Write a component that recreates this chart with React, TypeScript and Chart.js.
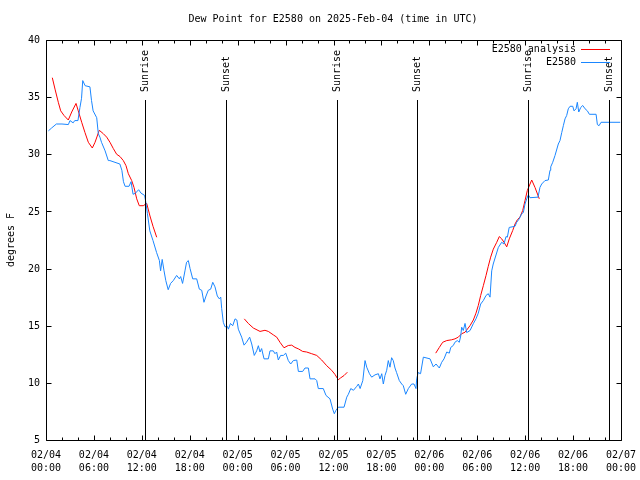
import React, { useEffect, useRef } from 'react';
import { Chart, registerables } from 'chart.js';

Chart.register(...registerables);

// Hours since 2025-02-04 00:00 UTC, dew point (°F)
const stationE2580: [number, number][] = [
  [0.3, 32.05], [0.7, 32.3], [1.3, 32.65], [2.0, 32.65], [2.8, 32.6], [3.0, 32.95], [3.4, 32.75], [3.6, 32.95],
  [4.0, 32.95], [4.25, 34.1], [4.45, 34.9], [4.6, 36.45], [4.9, 36.0], [5.5, 35.9], [5.7, 34.7], [5.9, 33.8],
  [6.35, 33.2], [6.55, 31.8], [6.75, 31.5], [6.95, 31.05], [7.4, 30.3], [7.8, 29.45], [8.0, 29.45], [9.25, 29.15],
  [9.5, 28.6], [9.7, 27.6], [9.9, 27.2], [10.4, 27.2], [10.65, 27.6], [10.9, 26.5], [11.2, 26.6], [11.6, 26.9],
  [11.9, 26.6], [12.35, 26.4], [12.5, 25.8], [12.7, 24.8], [13.0, 23.3], [13.4, 22.45], [13.85, 21.4], [14.2, 20.7],
  [14.35, 19.8], [14.55, 20.8], [14.78, 19.8], [15.0, 18.95], [15.3, 18.15], [15.6, 18.7], [15.94, 18.95], [16.36, 19.4],
  [16.7, 19.1], [16.86, 19.3], [17.1, 18.7], [17.4, 19.8], [17.6, 20.55], [17.82, 20.7], [18.04, 20.0], [18.37, 19.1],
  [18.87, 19.1], [19.2, 18.2], [19.5, 18.1], [19.78, 17.05], [20.04, 17.6], [20.32, 18.1], [20.62, 18.2], [20.88, 18.8],
  [21.16, 18.4], [21.45, 17.6], [21.7, 17.35], [21.88, 17.5], [22.0, 16.5], [22.2, 15.3], [22.42, 14.9], [22.7, 14.95],
  [22.84, 14.7], [23.1, 15.2], [23.38, 15.0], [23.67, 15.6], [23.9, 15.5], [24.08, 14.7], [24.5, 14.0], [24.8, 13.3],
  [25.1, 13.55], [25.5, 14.0], [25.76, 13.4], [26.08, 12.4], [26.38, 12.8], [26.59, 13.25], [26.8, 12.7], [27.0, 13.0],
  [27.3, 12.1], [27.84, 12.1], [28.05, 12.8], [28.46, 12.8], [28.67, 12.55], [28.88, 12.7], [29.09, 12.0], [29.38, 12.4],
  [29.72, 12.4], [30.02, 12.6], [30.34, 11.95], [30.64, 11.65], [30.97, 11.95], [31.4, 12.0], [31.6, 11.0], [32.14, 11.0],
  [32.43, 11.3], [32.85, 11.3], [33.06, 10.35], [33.69, 10.35], [33.9, 10.2], [34.1, 9.5], [34.72, 9.5], [35.06, 8.9],
  [35.56, 8.6], [35.9, 7.7], [36.1, 7.3], [36.31, 7.6], [36.6, 7.87], [37.32, 7.87], [37.66, 8.75], [37.86, 9.0],
  [38.16, 9.5], [38.5, 9.35], [38.92, 9.7], [39.12, 9.9], [39.33, 9.5], [39.67, 10.2], [39.95, 11.95], [40.16, 11.37],
  [40.5, 10.8], [40.78, 10.5], [41.2, 10.7], [41.62, 10.8], [41.82, 10.35], [42.04, 10.8], [42.24, 9.9], [42.45, 10.65],
  [42.66, 11.1], [42.86, 11.95], [43.07, 11.37], [43.28, 12.2], [43.48, 11.95], [43.7, 11.3], [43.9, 10.9], [44.24, 10.2],
  [44.54, 9.9], [44.74, 9.75], [45.04, 9.0], [45.37, 9.5], [45.79, 9.9], [46.08, 9.9], [46.33, 9.5], [46.42, 10.35],
  [46.6, 10.9], [46.9, 10.8], [47.25, 12.25], [48.09, 12.1], [48.5, 11.4], [48.84, 11.65], [49.25, 11.3], [49.55, 11.8],
  [49.84, 12.1], [50.18, 12.7], [50.5, 12.6], [50.68, 13.1], [51.0, 13.27], [51.2, 13.55], [51.5, 13.7], [51.75, 13.55],
  [51.93, 14.1], [52.05, 14.87], [52.25, 14.58], [52.47, 15.2], [52.68, 14.4], [53.1, 14.58], [53.5, 15.17], [53.84, 15.6],
  [54.13, 16.1], [54.43, 16.9], [54.76, 17.2], [55.1, 17.65], [55.38, 17.8], [55.6, 17.5], [55.81, 19.8], [56.0, 20.4],
  [56.31, 21.1], [56.64, 21.85], [57.06, 22.3], [57.35, 22.15], [57.6, 22.8], [57.77, 22.75], [58.0, 23.6], [58.73, 23.7],
  [58.94, 24.05], [59.26, 24.35], [59.56, 24.8], [59.77, 24.9], [59.98, 25.65], [60.19, 26.1], [60.4, 26.45], [60.6, 26.2],
  [61.61, 26.25], [61.85, 27.1], [62.07, 27.4], [62.48, 27.7], [62.9, 27.75], [63.11, 28.6], [63.2, 28.9], [63.45, 29.3],
  [63.74, 29.9], [64.15, 30.9], [64.36, 31.2], [64.58, 31.9], [64.78, 32.5], [64.99, 33.1], [65.2, 33.4], [65.4, 33.98],
  [65.62, 34.2], [65.96, 34.2], [66.12, 33.8], [66.37, 33.98], [66.53, 34.55], [66.71, 33.7], [66.96, 34.1], [67.21, 34.27],
  [67.5, 33.98], [67.79, 33.8], [68.04, 33.5], [68.88, 33.5], [69.04, 32.6], [69.25, 32.5], [69.5, 32.8], [71.9, 32.8],
];

const analysisPart1: [number, number][] = [
  [0.79, 36.7], [1.13, 35.7], [1.54, 34.55], [1.84, 33.8], [2.25, 33.4], [2.79, 33.0], [3.22, 33.7], [3.76, 34.45],
  [4.04, 33.8], [4.47, 32.8], [4.88, 31.9], [5.3, 31.05], [5.8, 30.55], [6.14, 31.05], [6.67, 32.1], [7.18, 31.8],
  [7.6, 31.5], [8.01, 31.05], [8.43, 30.5], [8.85, 30.0], [9.27, 29.8], [9.68, 29.45], [10.02, 29.0], [10.31, 28.3],
  [10.73, 27.7], [11.02, 27.1], [11.36, 26.1], [11.68, 25.5], [12.18, 25.5], [12.61, 25.7], [13.02, 24.6], [13.4, 23.7],
  [13.86, 22.74],
];
const analysisPart2: [number, number][] = [
  [24.83, 15.6], [25.33, 15.2], [25.96, 14.8], [26.8, 14.5], [27.42, 14.6], [27.84, 14.5], [28.46, 14.2], [28.89, 14.0],
  [29.3, 13.55], [29.8, 13.07], [30.34, 13.27], [30.77, 13.3], [31.18, 13.1], [31.59, 12.98], [32.14, 12.75], [32.64, 12.7],
  [33.27, 12.55], [33.9, 12.4], [34.52, 12.0], [35.15, 11.5], [35.77, 11.1], [36.19, 10.73], [36.6, 10.27], [36.9, 10.44],
  [37.32, 10.64], [37.73, 10.93],
];
const analysisPart3: [number, number][] = [
  [48.8, 12.6], [49.25, 13.1], [49.67, 13.55], [50.18, 13.7], [50.8, 13.77], [51.21, 13.85], [51.63, 14.0], [52.05, 14.3],
  [52.47, 14.43], [53.09, 15.0], [53.51, 15.5], [53.84, 16.1], [54.13, 16.77], [54.43, 17.65], [54.76, 18.5], [55.1, 19.4],
  [55.38, 20.2], [55.68, 21.0], [56.01, 21.7], [56.44, 22.3], [56.76, 22.8], [57.06, 22.6], [57.35, 22.3], [57.69, 21.9],
  [58.01, 22.6], [58.44, 23.33], [58.73, 23.9], [59.02, 24.27], [59.35, 24.5], [59.69, 25.08], [59.98, 25.95], [60.27, 26.83],
  [60.82, 27.75], [61.23, 27.1], [61.77, 26.1],
];

const sunriseHours = [12.43, 36.42, 60.4];
const sunsetHours = [22.48, 46.5, 70.52];

const xMajorHours = [0, 6, 12, 18, 24, 30, 36, 42, 48, 54, 60, 66, 72];
const xMinorHours = [2, 4, 8, 10, 14, 16, 20, 22, 26, 28, 32, 34, 38, 40, 44, 46, 50, 52, 56, 58, 62, 64, 68, 70];
const xTickDates = ['02/04', '02/04', '02/04', '02/04', '02/05', '02/05', '02/05', '02/05', '02/06', '02/06', '02/06', '02/06', '02/07'];
const xTickTimes = ['00:00', '06:00', '12:00', '18:00', '00:00', '06:00', '12:00', '18:00', '00:00', '06:00', '12:00', '18:00', '00:00'];
const yTickValues = [5, 10, 15, 20, 25, 30, 35, 40];

const TITLE = 'Dew Point for E2580 on 2025-Feb-04 (time in UTC)';
const Y_TITLE = 'degrees F';
const SERIES_NAMES = ['E2580 analysis', 'E2580'];
const RED = '#ff0000';
const BLUE = '#1a86ff';
const FONT = '10px "DejaVu Sans Mono", monospace';

const toPts = (arr: [number, number][]) => arr.map(([x, y]) => ({ x, y }));

const decorPlugin = {
  id: 'gnuplotDecor',
  afterDatasetsDraw(chart: any) {
    const { ctx, chartArea: a, scales } = chart;
    const xs = scales.x;
    const ys = scales.y;
    ctx.save();
    ctx.fillStyle = '#000';
    ctx.strokeStyle = '#000';
    ctx.lineWidth = 1;
    ctx.font = FONT;

    // Sunrise / sunset markers
    const sunMark = (h: number, label: string) => {
      const px = Math.round(xs.getPixelForValue(h)) + 0.5;
      ctx.beginPath();
      ctx.moveTo(px, 100);
      ctx.lineTo(px, a.bottom);
      ctx.stroke();
      ctx.save();
      ctx.translate(px, 92);
      ctx.rotate(-Math.PI / 2);
      ctx.textAlign = 'left';
      ctx.textBaseline = 'middle';
      ctx.fillText(label, 0, 0);
      ctx.restore();
    };
    sunriseHours.forEach((h) => sunMark(h, 'Sunrise'));
    sunsetHours.forEach((h) => sunMark(h, 'Sunset'));

    // Frame
    const L = Math.round(a.left) + 0.5;
    const R = Math.round(a.right) + 0.5;
    const T = Math.round(a.top) + 0.5;
    const B = Math.round(a.bottom) + 0.5;
    ctx.beginPath();
    ctx.rect(L, T, R - L, B - T);
    ctx.stroke();

    // X ticks (inward, mirrored)
    const xTick = (h: number, len: number) => {
      const px = Math.round(xs.getPixelForValue(h)) + 0.5;
      ctx.beginPath();
      ctx.moveTo(px, B);
      ctx.lineTo(px, B - len);
      ctx.moveTo(px, T);
      ctx.lineTo(px, T + len);
      ctx.stroke();
    };
    xMajorHours.forEach((h) => xTick(h, 5));
    xMinorHours.forEach((h) => xTick(h, 3));

    // Y ticks
    yTickValues.forEach((v) => {
      const py = Math.round(ys.getPixelForValue(v)) + 0.5;
      ctx.beginPath();
      ctx.moveTo(L, py);
      ctx.lineTo(L + 5, py);
      ctx.moveTo(R, py);
      ctx.lineTo(R - 5, py);
      ctx.stroke();
    });

    // Tick labels
    ctx.textBaseline = 'middle';
    ctx.textAlign = 'right';
    yTickValues.forEach((v) => {
      ctx.fillText(String(v), 40, ys.getPixelForValue(v) + 0.5);
    });
    ctx.textAlign = 'center';
    xMajorHours.forEach((h, i) => {
      const px = xs.getPixelForValue(h);
      ctx.fillText(xTickDates[i], px, 455);
      ctx.fillText(xTickTimes[i], px, 468);
    });

    // Title
    ctx.fillText(TITLE, 333, 19);

    // Y title
    ctx.save();
    ctx.translate(11, 240);
    ctx.rotate(-Math.PI / 2);
    ctx.textAlign = 'center';
    ctx.fillText(Y_TITLE, 0, 0);
    ctx.restore();

    // Legend
    const colors = [RED, BLUE];
    SERIES_NAMES.forEach((name, i) => {
      const yy = 49 + i * 13;
      ctx.fillStyle = '#000';
      ctx.textAlign = 'right';
      ctx.fillText(name, 576, yy);
      ctx.strokeStyle = colors[i];
      ctx.beginPath();
      ctx.moveTo(581, yy + 0.5);
      ctx.lineTo(610, yy + 0.5);
      ctx.stroke();
    });
    ctx.restore();
  },
};

export default function App() {
  const ref = useRef<HTMLCanvasElement | null>(null);
  useEffect(() => {
    if (!ref.current) return;
    const redData: any[] = [
      ...toPts(analysisPart1),
      { x: 18, y: null },
      ...toPts(analysisPart2),
      { x: 43, y: null },
      ...toPts(analysisPart3),
    ];
    const chart = new Chart(ref.current, {
      type: 'line',
      data: {
        datasets: [
          {
            label: SERIES_NAMES[1],
            data: toPts(stationE2580),
            borderColor: BLUE,
            borderWidth: 1,
            pointRadius: 0,
            tension: 0,
            fill: false,
          },
          {
            label: SERIES_NAMES[0],
            data: redData,
            borderColor: RED,
            borderWidth: 1,
            pointRadius: 0,
            tension: 0,
            fill: false,
            spanGaps: false,
          },
        ],
      },
      options: {
        animation: false,
        responsive: false,
        devicePixelRatio: 1,
        parsing: false,
        layout: { padding: { left: 0, right: 19, top: 40, bottom: 0 } },
        plugins: {
          legend: { display: false },
          title: { display: false },
          tooltip: { enabled: false },
        },
        scales: {
          x: {
            type: 'linear',
            min: 0,
            max: 72,
            ticks: { display: false },
            grid: { display: false },
            border: { display: false },
            afterFit: (s: any) => { s.height = 40; },
          },
          y: {
            type: 'linear',
            min: 5,
            max: 40,
            ticks: { display: false },
            grid: { display: false },
            border: { display: false },
            afterFit: (s: any) => { s.width = 46; },
          },
        },
      } as any,
      plugins: [decorPlugin],
    });
    return () => chart.destroy();
  }, []);

  return (
    <div style={{ position: 'absolute', left: 0, top: 0, width: 640, height: 480, background: '#fff' }}>
      <canvas ref={ref} width={640} height={480} style={{ display: 'block' }} />
    </div>
  );
}
